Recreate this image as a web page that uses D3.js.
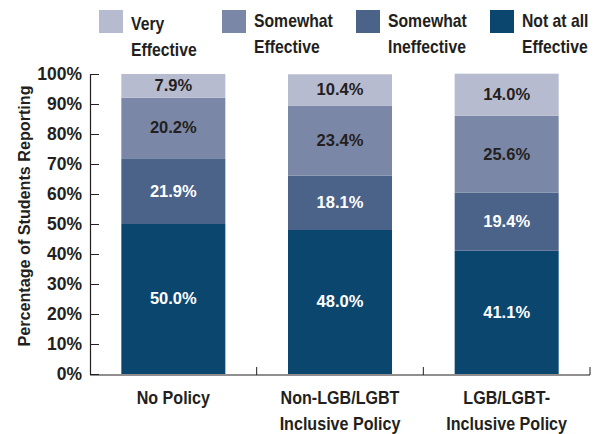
<!DOCTYPE html>
<html>
<head>
<meta charset="utf-8">
<script src="https://cdn.jsdelivr.net/npm/d3@7/dist/d3.min.js"></script>
<style>
  body { margin: 0; background: #fff; }
  text { font-family: "Liberation Sans", Arial, sans-serif; font-weight: bold; fill: #231f20; }
</style>
</head>
<body>
<svg id="chart" width="600" height="434"></svg>
<script>
// categories (split into label lines)
var categories = ['No Policy', 'Non-LGB/LGBT Inclusive Policy', 'LGB/LGBT-Inclusive Policy'];
var categoryLines = [['No Policy'], ['Non-LGB/LGBT', 'Inclusive Policy'], ['LGB/LGBT-', 'Inclusive Policy']];

// series, bottom to top
var notAtAll            = [50.0, 48.0, 41.1];
var somewhatIneffective = [21.9, 18.1, 19.4];
var somewhatEffective   = [20.2, 23.4, 25.6];
var veryEffective       = [7.9, 10.4, 14.0];

var seriesNames  = ['Not at all Effective', 'Somewhat Ineffective', 'Somewhat Effective', 'Very Effective'];
var seriesValues = [notAtAll, somewhatIneffective, somewhatEffective, veryEffective];
var yTicks = [0, 10, 20, 30, 40, 50, 60, 70, 80, 90, 100];

var colors    = ['#0b466f', '#4b6289', '#7b87a6', '#b6bbd0'];
var labelFill = ['#ffffff', '#ffffff', '#231f20', '#231f20'];

var svg = d3.select('#chart');

var x = d3.scaleBand()
    .domain(categories)
    .range([90, 590])
    .paddingInner(0.376)
    .paddingOuter(0.188);

var y = d3.scaleLinear()
    .domain([0, 100])
    .range([374, 74]);

// the original font is a condensed sans, so squeeze the text a bit
var squeezed = function(g, tx, ty, sx) {
    return g.append('text')
        .attr('transform', 'translate(' + tx + ',' + ty + ') scale(' + sx + ',1)');
};

// build rows for d3.stack
var rows = categories.map(function(c, i) {
    var r = { cat: c };
    seriesNames.forEach(function(s, j) { r[s] = seriesValues[j][i]; });
    return r;
});
var stacked = d3.stack().keys(seriesNames)(rows);

var layers = svg.append('g').selectAll('g')
    .data(stacked)
    .enter().append('g')
    .attr('fill', function(d, i) { return colors[i]; });

layers.selectAll('rect')
    .data(function(d) { return d; })
    .enter().append('rect')
    .attr('x', function(d) { return x(d.data.cat); })
    .attr('y', function(d) { return y(d[1]); })
    .attr('width', x.bandwidth())
    .attr('height', function(d) { return y(d[0]) - y(d[1]); });

// value labels
stacked.forEach(function(layer, i) {
    svg.append('g').selectAll('text')
        .data(layer)
        .enter().append('text')
        .attr('x', function(d) { return x(d.data.cat) + x.bandwidth() / 2; })
        .attr('y', function(d) { return (y(d[0]) + y(d[1])) / 2; })
        .attr('dy', '0.33em')
        .attr('text-anchor', 'middle')
        .style('font-size', '16.5px')
        .style('fill', labelFill[i])
        .text(function(d) { return seriesValues[i][categories.indexOf(d.data.cat)].toFixed(1) + '%'; });
});

// y axis
var yAxis = svg.append('g')
    .attr('transform', 'translate(90,0)')
    .call(d3.axisLeft(y).tickValues(yTicks).tickFormat(function(d) { return d + '%'; })
        .tickSizeInner(-9).tickSizeOuter(0).tickPadding(8));
yAxis.select('.domain').attr('stroke', '#231f20').attr('stroke-width', 1.2);
yAxis.selectAll('.tick line').attr('stroke', '#231f20');
yAxis.selectAll('.tick text')
    .style('font-family', '"Liberation Sans", Arial, sans-serif')
    .style('font-size', '17.5px')
    .style('fill', '#231f20');

// bottom axis line with separators between categories
var base = y(0) + 1;
svg.append('line')
    .attr('x1', 90).attr('x2', 590)
    .attr('y1', base).attr('y2', base)
    .attr('stroke', '#231f20').attr('stroke-width', 1.2);
svg.append('g').selectAll('line')
    .data(categories)
    .enter().append('line')
    .attr('x1', function(d) { return x(d) + x.bandwidth() + x.step() * x.paddingInner() / 2; })
    .attr('x2', function(d) { return x(d) + x.bandwidth() + x.step() * x.paddingInner() / 2; })
    .attr('y1', base).attr('y2', base - 8)
    .attr('stroke', '#231f20');

// category labels
var catG = svg.append('g');
categories.forEach(function(c, i) {
    var t = squeezed(catG, x(c) + x.bandwidth() / 2, 404, 0.87)
        .attr('text-anchor', 'middle')
        .style('font-size', '18.5px');
    categoryLines[i].forEach(function(line, k) {
        t.append('tspan').attr('x', 0).attr('dy', k === 0 ? 0 : 26).text(line);
    });
});

// y axis title
svg.append('text')
    .attr('transform', 'translate(30,216) rotate(-90) scale(0.95,1)')
    .attr('text-anchor', 'middle')
    .style('font-size', '17px')
    .text('Percentage of Students Reporting');

// legend, left to right
var legendOrder = [3, 2, 1, 0];
var legendX = [99, 222, 356, 490];
var legendLines = [['Very', 'Effective'], ['Somewhat', 'Effective'], ['Somewhat', 'Ineffective'], ['Not at all', 'Effective']];

var legend = svg.append('g');
legendOrder.forEach(function(s, i) {
    legend.append('rect')
        .attr('x', legendX[i]).attr('y', 10)
        .attr('width', 24).attr('height', 23)
        .attr('fill', colors[s]);
    var t = squeezed(legend, legendX[i] + 32, i === 0 ? 30 : 27, 0.89)
        .style('font-size', '17.7px');
    legendLines[i].forEach(function(line, k) {
        t.append('tspan').attr('x', 0).attr('dy', k === 0 ? 0 : 26).text(line);
    });
});
</script>
</body>
</html>
